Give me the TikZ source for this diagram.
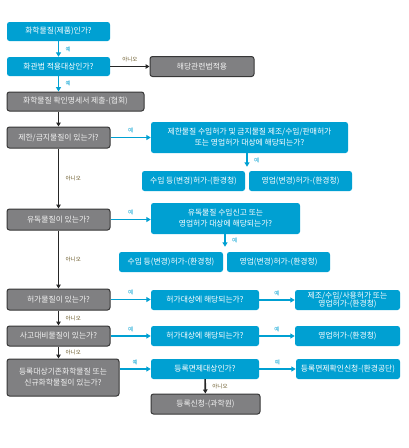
\documentclass[tikz,border=0pt]{standalone}
\usepackage{fontspec}
\newfontfamily\kr{Noto Sans CJK KR}
\usepackage{tikz}
\usetikzlibrary{arrows.meta,positioning,calc}
\definecolor{chemblue}{RGB}{0,160,210}
\definecolor{boxgray}{RGB}{128,128,130}
\definecolor{edgegray}{RGB}{55,55,55}
\definecolor{nolabel}{RGB}{105,88,40}

\begin{document}
\begin{tikzpicture}[
  x=1pt, y=-1pt,
  box/.style={rounded corners=2.5pt, align=center, inner sep=1pt, text=white,
    font=\kr\fontsize{7.8}{11}\selectfont, minimum width=103pt, minimum height=20pt},
  bluebox/.style={box, fill=chemblue},
  graybox/.style={box, fill=boxgray, draw=edgegray, line width=1pt, text=black!5},
  yarr/.style={-{Triangle[length=4.5pt,width=5pt]}, chemblue, line width=1.6pt},
  narr/.style={-{Triangle[length=4pt,width=4.5pt]}, black!85, line width=1.6pt},
  yes/.style={font=\kr\fontsize{5.5}{6}\selectfont, text=chemblue},
  no/.style={font=\kr\fontsize{5.5}{6}\selectfont, text=nolabel}
]
\useasboundingbox (0,0) rectangle (408,448);

% left column
\node[bluebox, minimum height=19pt] (q1) at (58.5,31.5) {화학물질(제품)인가?};
\node[bluebox, minimum height=19pt] (q2) at (58.5,66.5) {화관법 적용대상인가?};
\node[graybox, minimum width=104pt] (n2) at (202,66.5) {해당관련법적용};
\node[graybox, minimum width=137pt, minimum height=19pt] (q3) at (75.5,101.5) {화학물질 확인명세서 제출-(협회)};
\node[graybox, minimum height=21pt] (q4) at (58.5,137.5) {제한/금지물질이 있는가?};
\node[graybox, minimum height=21pt] (q5) at (58.5,219.5) {유독물질이 있는가?};
\node[graybox, minimum height=21pt] (q6) at (58.5,299.5) {허가물질이 있는가?};
\node[graybox] (q7) at (58.5,336) {사고대비물질이 있는가?};
\node[graybox, minimum width=112pt, minimum height=37pt] (q8) at (63,377.5) {등록대상기존화학물질 또는\\신규화학물질이 있는가?};

% restricted / banned
\node[bluebox, minimum width=197pt, minimum height=31pt] (b4) at (249.5,137.5) {제한물질 수입허가 및 금지물질 제조/수입/판매허가\\또는 영업허가 대상에 해당되는가?};
\node[bluebox] (b4a) at (193.5,181) {수입 등(변경)허가-(환경청)};
\node[bluebox] (b4b) at (300.5,181) {영업(변경)허가-(환경청)};

% toxic
\node[bluebox, minimum width=149pt, minimum height=31pt] (b5) at (225.5,218.5) {유독물질 수입신고 또는\\영업허가 대상에 해당되는가?};
\node[bluebox, minimum width=104pt] (b5a) at (171,262) {수입 등(변경)허가-(환경청)};
\node[bluebox] (b5b) at (278.5,262) {영업(변경)허가-(환경청)};

% permit / accident
\node[bluebox, minimum width=108pt] (b6) at (205,300) {허가대상에 해당되는가?};
\node[bluebox, minimum width=105pt, inner sep=0.5pt, font=\kr\fontsize{7.8}{8.6}\selectfont] (b6r) at (347.5,300) {제조/수입/사용허가 또는\\영업허가-(환경청)};
\node[bluebox, minimum width=108pt] (b7) at (205,336) {허가대상에 해당되는가?};
\node[bluebox, minimum width=105pt] (b7r) at (347.5,336) {영업허가-(환경청)};

% registration
\node[bluebox, minimum width=108pt] (b8) at (205,369) {등록면제대상인가?};
\node[bluebox, minimum width=104pt] (b8r) at (348,369) {등록면제확인신청-(환경공단)};
\node[graybox, minimum width=109pt] (n8) at (205.5,404) {등록신청-(과학원)};

\coordinate (j4) at ($(b4a.north east)!0.5!(b4b.north west)+(0,-4)$);
\coordinate (j5) at ($(b5a.north east)!0.5!(b5b.north west)+(0,-5)$);

\draw[yarr] (q1) -- node[yes, right=3pt] {예} (q2);
\draw[narr] (q2) -- node[no, above] {아니오} (n2);
\draw[yarr] (q2) -- node[yes, right=3pt] {예} (q2 |- q3.north);
\draw[narr] (q2 |- q3.south) -- (q4);
\draw[narr] (q4) -- node[no, right=3pt] {아니오} (q5);
\draw[narr] (q5) -- node[no, right=3pt] {아니오} (q6);
\draw[narr] (q6) -- node[no, right=3pt] {아니오} (q7);
\draw[narr] (q7) -- node[no, right=3pt] {아니오} (q7 |- q8.north);

\draw[yarr] (q4) -- node[yes, above] {예} (b4);
\draw[yarr] (b4.south -| j4) -- node[yes, right=3pt] {예} (j4);
\draw[yarr] (q5) -- node[yes, above] {예} (q5 -| b5.west);
\draw[yarr] (b5.south -| j5) -- node[yes, right=3pt] {예} (j5);
\draw[yarr] (q6) -- node[yes, above] {예} (q6 -| b6.west);
\draw[yarr] (b6) -- node[yes, above] {예} (b6r);
\draw[yarr] (q7) -- node[yes, above] {예} (b7);
\draw[yarr] (b7) -- node[yes, above] {예} (b7r);
\draw[yarr] (q8.east |- b8) -- node[yes, above] {예} (b8);
\draw[yarr] (b8) -- node[yes, above] {예} (b8r);
\draw[narr] (b8) -- node[no, right=3pt] {아니오} (n8);
\end{tikzpicture}
\end{document}
